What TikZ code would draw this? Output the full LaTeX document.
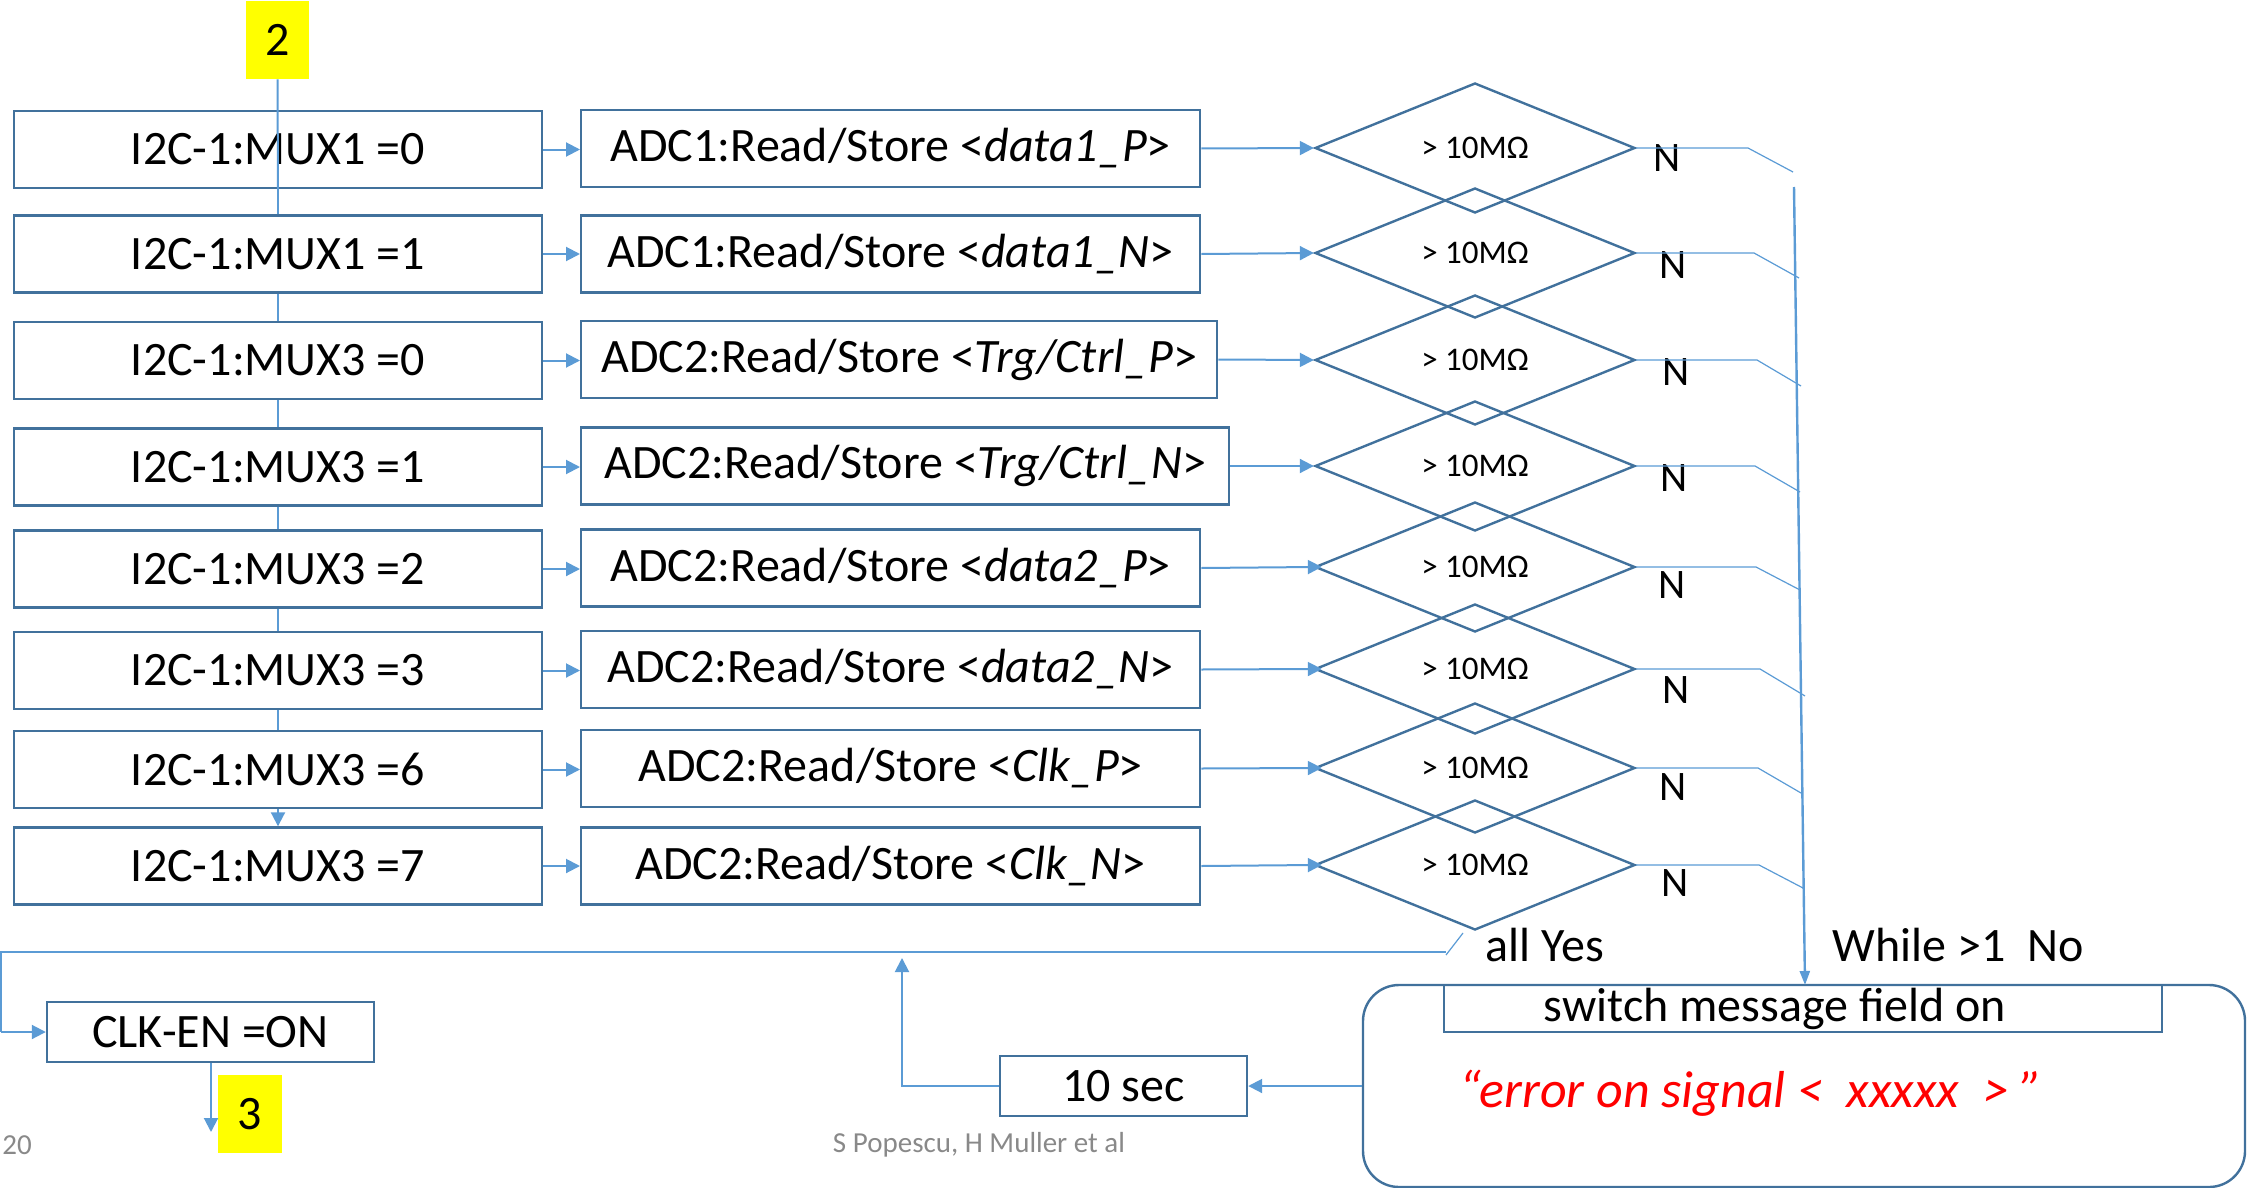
\documentclass[tikz,border=0pt]{standalone}
\usepackage{fontspec}
\setmainfont{Carlito}
\usetikzlibrary{arrows.meta,shapes.geometric,calc}
\definecolor{boxblue}{HTML}{41719C}
\definecolor{lineblue}{HTML}{5B9BD5}
\definecolor{hlyellow}{HTML}{FFFF00}
\definecolor{graytxt}{HTML}{898989}
\definecolor{errred}{HTML}{FF0000}
\tikzset{
  bigfont/.style={font=\fontsize{24}{28}\selectfont},
  lbox/.style={draw=boxblue, line width=1.2pt, minimum width=264pt, minimum height=38.5pt, inner sep=0pt, bigfont},
  abox/.style={draw=boxblue, line width=1.2pt, minimum height=38.5pt, inner sep=0pt, anchor=west, bigfont},
  dbox/.style={draw=boxblue, line width=1.2pt, diamond, minimum width=160pt, minimum height=65pt, inner sep=0pt, font=\fontsize{16.5}{19}\selectfont},
  nlab/.style={font=\fontsize{21}{24}\selectfont, inner sep=0pt},
  ylab/.style={fill=hlyellow, inner sep=0pt, bigfont},
  conn/.style={draw=lineblue, line width=1pt},
  thin/.style={draw=lineblue, line width=0.6pt},
  arr/.style={conn, -{Triangle[length=7pt,width=7pt]}},
  gtxt/.style={text=graytxt, font=\fontsize{14.5}{17}\selectfont, inner sep=0pt}
}
\begin{document}
\begin{tikzpicture}[x=0.5pt,y=-0.5pt]
\useasboundingbox (0,0) rectangle (2248,1188);

% yellow connector labels
\node[ylab, minimum width=31.5pt, minimum height=39pt] (y2) at (277.5,40) {2};
\node[ylab, minimum width=32pt, minimum height=39pt] (y3) at (250,1114) {3};

% left column
\node[lbox] (m1) at (278,149.5) {I2C-1:MUX1 =0};
\node[lbox] (m2) at (278,254) {I2C-1:MUX1 =1};
\node[lbox] (m3) at (278,360.5) {I2C-1:MUX3 =0};
\node[lbox] (m4) at (278,467) {I2C-1:MUX3 =1};
\node[lbox] (m5) at (278,569) {I2C-1:MUX3 =2};
\node[lbox] (m6) at (278,670.5) {I2C-1:MUX3 =3};
\node[lbox] (m7) at (278,769.5) {I2C-1:MUX3 =6};
\node[lbox] (m8) at (278,866) {I2C-1:MUX3 =7};

% ADC column
\node[abox, minimum width=309.5pt] (a1) at (580,148.5) {ADC1:Read/Store <\textit{data1\_P}>};
\node[abox, minimum width=309.5pt] (a2) at (580,254) {ADC1:Read/Store <\textit{data1\_N}>};
\node[abox, minimum width=318pt] (a3) at (580,359.5) {ADC2:Read/Store <\textit{Trg/Ctrl\_P}>};
\node[abox, minimum width=324pt] (a4) at (580,466) {ADC2:Read/Store <\textit{Trg/Ctrl\_N}>};
\node[abox, minimum width=309.5pt] (a5) at (580,568) {ADC2:Read/Store <\textit{data2\_P}>};
\node[abox, minimum width=309.5pt] (a6) at (580,669.5) {ADC2:Read/Store <\textit{data2\_N}>};
\node[abox, minimum width=309.5pt] (a7) at (580,768.5) {ADC2:Read/Store <\textit{Clk\_P}>};
\node[abox, minimum width=309.5pt] (a8) at (580,866) {ADC2:Read/Store <\textit{Clk\_N}>};

% diamonds
\node[dbox] (d1) at (1475,148) {> 10MΩ};
\node[dbox] (d2) at (1475,253) {> 10MΩ};
\node[dbox] (d3) at (1475,360) {> 10MΩ};
\node[dbox] (d4) at (1475,466) {> 10MΩ};
\node[dbox] (d5) at (1475,567) {> 10MΩ};
\node[dbox] (d6) at (1475,669) {> 10MΩ};
\node[dbox] (d7) at (1475,768) {> 10MΩ};
\node[dbox] (d8) at (1475,865) {> 10MΩ};

% N labels
\node[nlab] (n1) at (1667,158) {N};
\node[nlab] (n2) at (1673,265) {N};
\node[nlab] (n3) at (1676,372) {N};
\node[nlab] (n4) at (1674,478) {N};
\node[nlab] (n5) at (1672,585) {N};
\node[nlab] (n6) at (1676,690) {N};
\node[nlab] (n7) at (1673,787) {N};
\node[nlab] (n8) at (1675,883) {N};

% bottom nodes
\node[draw=boxblue, line width=1.2pt, minimum width=163.5pt, minimum height=30pt, inner sep=0pt, bigfont] (clk) at (210.5,1032) {CLK-EN =ON};
\node[draw=boxblue, line width=1.2pt, minimum width=123.5pt, minimum height=30pt, inner sep=0pt, bigfont] (ten) at (1123.5,1086) {10 sec};
\node[draw=boxblue, line width=1.2pt, rounded corners=18pt, minimum width=441pt, minimum height=101pt, inner sep=0pt] (msg) at (1804,1086) {};
\node[draw=boxblue, line width=1.2pt, minimum width=359pt, minimum height=23.5pt, inner sep=0pt, bigfont] (sw) at (1803,1008.5) {switch message field on\hspace*{28pt}};
\node[text=errred, inner sep=0pt, font=\fontsize{26}{30}\selectfont\itshape] (err) at (1751,1093) {“error on signal <\ \ xxxxx\ \ > ”};

\node[bigfont, inner sep=0pt] (yes) at (1545,945) {all Yes};
\node[bigfont, inner sep=0pt] (while) at (1958,945) {While >1\ \ No};
\node[gtxt] (pg) at (17,1145) {20};
\node[gtxt] (auth) at (979,1145) {S Popescu, H Muller et al};

% vertical chain of left column
\draw[conn] (y2.south) -- (m1.south);
\draw[conn] (m2.north) -- (m1.south);
\draw[conn] (m2.south) -- (m3.north);
\draw[conn] (m3.south) -- (m4.north);
\draw[conn] (m4.south) -- (m5.north);
\draw[conn] (m5.south) -- (m6.north);
\draw[conn] (m6.south) -- (m7.north);
\draw[arr] (m7.south) -- (m8.north);

% left -> ADC
\foreach \i in {1,...,8}{
  \draw[arr] (m\i.east) -- (m\i.east -| a\i.west);
}
% ADC -> diamonds
\foreach \i in {1,2,3,4}{
  \draw[arr] (a\i.east) -- (d\i.west);
}
\foreach \i in {5,6,7,8}{
  \draw[arr, shorten >=-4pt] (a\i.east) -- (d\i.west);
}

% N branches
\coordinate (k1) at (1748,148); \coordinate (e1) at (1793,172);
\coordinate (k2) at (1754,253); \coordinate (e2) at (1799,278);
\coordinate (k3) at (1757,360); \coordinate (e3) at (1801,386);
\coordinate (k4) at (1755,466); \coordinate (e4) at (1800,492);
\coordinate (k5) at (1756,567); \coordinate (e5) at (1800,590);
\coordinate (k6) at (1760,669); \coordinate (e6) at (1805,696);
\coordinate (k7) at (1758,768); \coordinate (e7) at (1801,793);
\coordinate (k8) at (1759,865); \coordinate (e8) at (1803,888);
\foreach \i in {1,...,8}{
  \draw[thin] (d\i.east) -- (k\i) -- (e\i);
}
\coordinate (vtop) at (1794,187);
\coordinate (vbot) at (1805,985);
\draw[draw=lineblue, line width=1.2pt, -{Triangle[length=7pt,width=5pt]}] (vtop) -- (vbot);

% all yes return path
\coordinate (ya) at (1463,933);
\coordinate (yb) at (1446,955);
\coordinate (yc) at (1446,952);
\coordinate (yl) at (1,952);
\coordinate (yd) at (1,1032);
\draw[thin] (ya) -- (yb);
\draw[conn] (yc) -- (yl) -- (yd);
\draw[arr] (yd) -- (clk.west);

% CLK-EN down to 3
\coordinate (c3) at (211,1132);
\draw[arr] (clk.south -| c3) -- (c3);

% message -> 10 sec -> back up
\draw[arr] (msg.west) -- (ten.east);
\coordinate (tl) at (902,1086);
\coordinate (tu) at (902,958);
\draw[arr] (ten.west) -- (tl) -- (tu);
\end{tikzpicture}
\end{document}
